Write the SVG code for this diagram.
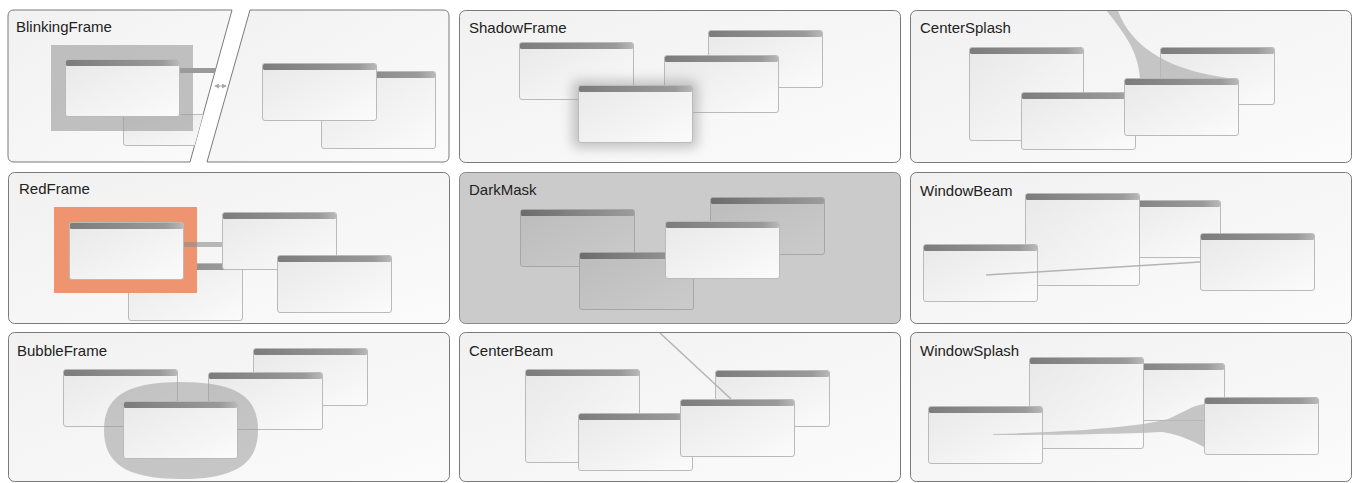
<svg xmlns="http://www.w3.org/2000/svg" width="1353" height="483" viewBox="0 0 1353 483">
<defs>
<linearGradient id="pg" x1="0" y1="0" x2="1" y2="1"><stop offset="0" stop-color="#f1f1f1"/><stop offset="1" stop-color="#fbfbfb"/></linearGradient>
<linearGradient id="wg" x1="0" y1="0" x2="1" y2="1"><stop offset="0" stop-color="#e8e8e8"/><stop offset="1" stop-color="#fbfbfb"/></linearGradient>
<linearGradient id="tg" x1="0" y1="0" x2="1" y2="0"><stop offset="0" stop-color="#7c7c7c"/><stop offset="0.85" stop-color="#9a9a9a"/><stop offset="1" stop-color="#b8b8b8"/></linearGradient>
<linearGradient id="dwg" x1="0" y1="0" x2="1" y2="1"><stop offset="0" stop-color="#bcbcbc"/><stop offset="1" stop-color="#cbcbcb"/></linearGradient>
<linearGradient id="dtg" x1="0" y1="0" x2="1" y2="0"><stop offset="0" stop-color="#6c6c6c"/><stop offset="1" stop-color="#9c9c9c"/></linearGradient>
<filter id="blur" x="-40%" y="-60%" width="180%" height="220%"><feGaussianBlur stdDeviation="6"/></filter>
<clipPath id="p1left"><path d="M14,10 L232,10 L190,162 L14,162 Q8,162 8,156 L8,16 Q8,10 14,10 Z"/></clipPath>
<marker id="ah" viewBox="0 0 6 6" refX="5" refY="3" markerWidth="5" markerHeight="5" orient="auto-start-reverse"><path d="M0,0 L6,3 L0,6 Z" fill="#a8a8a8"/></marker>
<style>
.panel{fill:url(#pg);stroke:#7a7a7a;stroke-width:1}
.dpanel{fill:#cbcbcb;stroke:#8a8a8a;stroke-width:1}
.lbl{font-family:"Liberation Sans",Arial,sans-serif;font-size:15px;fill:#222}
.wb{fill:url(#wg);stroke:#bababa;stroke-width:1}
.tb{fill:url(#tg)}
.dwb{fill:url(#dwg);stroke:#a6a6a6;stroke-width:1}
.dtb{fill:url(#dtg)}
.beam{stroke:#b4b4b4;stroke-width:1.5;fill:none}
.splash{fill:#b4b4b4;opacity:0.75}
</style>
</defs>

<!-- Panel 1: BlinkingFrame -->
<g id="p1">
<path class="panel" d="M14,10 L232,10 L190,162 L14,162 Q8,162 8,156 L8,16 Q8,10 14,10 Z"/>
<path class="panel" d="M250,10 L443,10 Q449,10 449,16 L449,156 Q449,162 443,162 L207,162 Z"/>
<text class="lbl" x="16" y="32">BlinkingFrame</text>
<g clip-path="url(#p1left)">
<g id="p1-back"><rect class="wb" x="123.5" y="114.5" width="114" height="31" rx="2.5"/></g>
<rect id="p1-blink" x="51" y="45" width="142" height="86" fill="#9c9c9c" opacity="0.62"/>
<rect id="p1-bar" x="179" y="68" width="50" height="5" fill="#9a9a9a"/>
<g id="p1-front" transform="translate(65,59)"><rect class="wb" x="0.5" y="0.5" width="114" height="57" rx="2.5"/><rect class="tb" x="1" y="1" width="113" height="6" rx="1.5"/></g>
</g>
<g id="p1-w2" transform="translate(321,71)"><rect class="wb" x="0.5" y="0.5" width="114" height="77" rx="2.5"/><rect class="tb" x="1" y="1" width="113" height="6" rx="1.5"/></g>
<g id="p1-w1" transform="translate(262,63)"><rect class="wb" x="0.5" y="0.5" width="114" height="57" rx="2.5"/><rect class="tb" x="1" y="1" width="113" height="6" rx="1.5"/></g>
</g>

<!-- Panel 2: ShadowFrame -->
<g id="p2">
<rect class="panel" x="459.5" y="10.5" width="441" height="152" rx="6"/>
<text class="lbl" x="469" y="33">ShadowFrame</text>
<g id="p2-a" transform="translate(519,42)"><rect class="wb" x="0.5" y="0.5" width="114" height="57" rx="2.5"/><rect class="tb" x="1" y="1" width="113" height="6" rx="1.5"/></g>
<g id="p2-b" transform="translate(708,30)"><rect class="wb" x="0.5" y="0.5" width="114" height="57" rx="2.5"/><rect class="tb" x="1" y="1" width="113" height="6" rx="1.5"/></g>
<g id="p2-c" transform="translate(664,55)"><rect class="wb" x="0.5" y="0.5" width="114" height="57" rx="2.5"/><rect class="tb" x="1" y="1" width="113" height="6" rx="1.5"/></g>
<rect id="p2-shadow" x="572" y="80" width="126" height="68" rx="6" fill="#9a9a9a" opacity="0.55" filter="url(#blur)"/>
<g id="p2-d" transform="translate(578,85)"><rect class="wb" x="0.5" y="0.5" width="114" height="57" rx="2.5"/><rect class="tb" x="1" y="1" width="113" height="6" rx="1.5"/></g>
</g>

<!-- Panel 3: CenterSplash -->
<g id="p3">
<rect class="panel" x="910.5" y="10.5" width="441" height="152" rx="6"/>
<text class="lbl" x="920" y="33">CenterSplash</text>
<g id="p3-a" transform="translate(969,47)"><rect class="wb" x="0.5" y="0.5" width="114" height="93" rx="2.5"/><rect class="tb" x="1" y="1" width="113" height="6" rx="1.5"/></g>
<g id="p3-b" transform="translate(1160,47)"><rect class="wb" x="0.5" y="0.5" width="114" height="57" rx="2.5"/><rect class="tb" x="1" y="1" width="113" height="6" rx="1.5"/></g>
<g id="p3-c" transform="translate(1021,92)"><rect class="wb" x="0.5" y="0.5" width="114" height="57" rx="2.5"/><rect class="tb" x="1" y="1" width="113" height="6" rx="1.5"/></g>
<path id="p3-splash" class="splash" d="M1107,11 C1125,35 1138,50 1140,79 L1237,79 C1170,72 1132,48 1118,11 Z"/>
<g id="p3-d" transform="translate(1124,78)"><rect class="wb" x="0.5" y="0.5" width="114" height="57" rx="2.5"/><rect class="tb" x="1" y="1" width="113" height="6" rx="1.5"/></g>
</g>

<!-- Panel 4: RedFrame -->
<g id="p4">
<rect class="panel" x="8.5" y="172.5" width="441" height="151" rx="6"/>
<text class="lbl" x="19" y="194">RedFrame</text>
<g id="p4-back" transform="translate(128,263)"><rect class="wb" x="0.5" y="0.5" width="114" height="57" rx="2.5"/><rect class="tb" x="1" y="1" width="113" height="6" rx="1.5"/></g>
<g id="p4-w2" transform="translate(222,212)"><rect class="wb" x="0.5" y="0.5" width="114" height="57" rx="2.5"/><rect class="tb" x="1" y="1" width="113" height="6" rx="1.5"/></g>
<g id="p4-w3" transform="translate(277,255)"><rect class="wb" x="0.5" y="0.5" width="114" height="57" rx="2.5"/><rect class="tb" x="1" y="1" width="113" height="6" rx="1.5"/></g>
<rect id="p4-red" x="54" y="207" width="143" height="86" fill="#ee9470"/>
<rect id="p4-bar" x="183" y="242" width="39" height="5" fill="#8e8e8e" opacity="0.6"/>
<g id="p4-front" transform="translate(69,222)"><rect class="wb" x="0.5" y="0.5" width="114" height="57" rx="2.5"/><rect class="tb" x="1" y="1" width="113" height="6" rx="1.5"/></g>
</g>

<!-- Panel 5: DarkMask -->
<g id="p5">
<rect class="dpanel" x="459.5" y="172.5" width="441" height="151" rx="6"/>
<text class="lbl" x="469" y="195">DarkMask</text>
<g id="p5-a" transform="translate(520,209)"><rect class="dwb" x="0.5" y="0.5" width="114" height="57" rx="2.5"/><rect class="dtb" x="1" y="1" width="113" height="6" rx="1.5"/></g>
<g id="p5-b" transform="translate(710,197)"><rect class="dwb" x="0.5" y="0.5" width="114" height="57" rx="2.5"/><rect class="dtb" x="1" y="1" width="113" height="6" rx="1.5"/></g>
<g id="p5-c" transform="translate(579,252)"><rect class="dwb" x="0.5" y="0.5" width="114" height="57" rx="2.5"/><rect class="dtb" x="1" y="1" width="113" height="6" rx="1.5"/></g>
<g id="p5-d" transform="translate(665,221)"><rect class="wb" x="0.5" y="0.5" width="114" height="57" rx="2.5" stroke="#8a8a8a"/><rect class="tb" x="1" y="1" width="113" height="6" rx="1.5"/></g>
</g>

<!-- Panel 6: WindowBeam -->
<g id="p6">
<rect class="panel" x="910.5" y="172.5" width="441" height="151" rx="6"/>
<text class="lbl" x="920" y="196">WindowBeam</text>
<g id="p6-b" transform="translate(1106,200)"><rect class="wb" x="0.5" y="0.5" width="114" height="57" rx="2.5"/><rect class="tb" x="1" y="1" width="113" height="6" rx="1.5"/></g>
<g id="p6-a" transform="translate(1025,193)"><rect class="wb" x="0.5" y="0.5" width="114" height="92" rx="2.5"/><rect class="tb" x="1" y="1" width="113" height="6" rx="1.5"/></g>
<g id="p6-c" transform="translate(923,244)"><rect class="wb" x="0.5" y="0.5" width="114" height="57" rx="2.5"/><rect class="tb" x="1" y="1" width="113" height="6" rx="1.5"/></g>
</g>

<!-- Panel 7: BubbleFrame -->
<g id="p7">
<rect class="panel" x="8.5" y="332.5" width="441" height="149" rx="6"/>
<text class="lbl" x="17" y="356">BubbleFrame</text>
<g id="p7-a" transform="translate(63,369)"><rect class="wb" x="0.5" y="0.5" width="114" height="57" rx="2.5"/><rect class="tb" x="1" y="1" width="113" height="6" rx="1.5"/></g>
<g id="p7-b" transform="translate(253,348)"><rect class="wb" x="0.5" y="0.5" width="114" height="57" rx="2.5"/><rect class="tb" x="1" y="1" width="113" height="6" rx="1.5"/></g>
<g id="p7-c" transform="translate(208,372)"><rect class="wb" x="0.5" y="0.5" width="114" height="57" rx="2.5"/><rect class="tb" x="1" y="1" width="113" height="6" rx="1.5"/></g>
<path id="p7-bubble" d="M181,382 C238,382 258,398 258,430 C258,462 238,479 181,479 C124,479 104,462 104,430 C104,398 124,382 181,382 Z" fill="#9c9c9c" opacity="0.55"/>
<g id="p7-d" transform="translate(123,401)"><rect class="wb" x="0.5" y="0.5" width="114" height="57" rx="2.5"/><rect class="tb" x="1" y="1" width="113" height="6" rx="1.5"/></g>
</g>

<!-- Panel 8: CenterBeam -->
<g id="p8">
<rect class="panel" x="459.5" y="332.5" width="441" height="149" rx="6"/>
<text class="lbl" x="469" y="356">CenterBeam</text>
<g id="p8-a" transform="translate(525,369)"><rect class="wb" x="0.5" y="0.5" width="114" height="93" rx="2.5"/><rect class="tb" x="1" y="1" width="113" height="6" rx="1.5"/></g>
<g id="p8-b" transform="translate(715,370)"><rect class="wb" x="0.5" y="0.5" width="114" height="56" rx="2.5"/><rect class="tb" x="1" y="1" width="113" height="6" rx="1.5"/></g>
<g id="p8-c" transform="translate(578,413)"><rect class="wb" x="0.5" y="0.5" width="114" height="57" rx="2.5"/><rect class="tb" x="1" y="1" width="113" height="6" rx="1.5"/></g>
</g>

<!-- Panel 9: WindowSplash -->
<g id="p9">
<rect class="panel" x="910.5" y="332.5" width="441" height="149" rx="6"/>
<text class="lbl" x="920" y="356">WindowSplash</text>
<g id="p9-b" transform="translate(1110,363)"><rect class="wb" x="0.5" y="0.5" width="114" height="57" rx="2.5"/><rect class="tb" x="1" y="1" width="113" height="6" rx="1.5"/></g>
<g id="p9-a" transform="translate(1029,357)"><rect class="wb" x="0.5" y="0.5" width="114" height="91" rx="2.5"/><rect class="tb" x="1" y="1" width="113" height="6" rx="1.5"/></g>
<g id="p9-c" transform="translate(928,406)"><rect class="wb" x="0.5" y="0.5" width="114" height="57" rx="2.5"/><rect class="tb" x="1" y="1" width="113" height="6" rx="1.5"/></g>
</g>

<!-- Connectors / effects -->
<g id="connectors">
<line id="p1-arrow" x1="215" y1="86" x2="226" y2="86" stroke="#a8a8a8" stroke-width="1" marker-start="url(#ah)" marker-end="url(#ah)"/>
<line id="p6-beam" class="beam" x1="986" y1="275" x2="1200" y2="262"/>
<line id="p8-beam" class="beam" x1="660" y1="333" x2="731" y2="399"/>
<path id="p9-splash" class="splash" d="M993,434 C1070,432 1140,427 1168,419 C1184,412 1194,405 1204,404 L1204,447 C1192,441 1182,435 1162,432 C1120,434 1060,435 993,435 Z"/>
</g>

<!-- Target windows drawn above their connectors -->
<g id="p6-d" transform="translate(1200,233)"><rect class="wb" x="0.5" y="0.5" width="114" height="57" rx="2.5"/><rect class="tb" x="1" y="1" width="113" height="6" rx="1.5"/></g>
<g id="p8-d" transform="translate(680,399)"><rect class="wb" x="0.5" y="0.5" width="114" height="57" rx="2.5"/><rect class="tb" x="1" y="1" width="113" height="6" rx="1.5"/></g>
<g id="p9-d" transform="translate(1204,397)"><rect class="wb" x="0.5" y="0.5" width="114" height="57" rx="2.5"/><rect class="tb" x="1" y="1" width="113" height="6" rx="1.5"/></g>
</svg>
